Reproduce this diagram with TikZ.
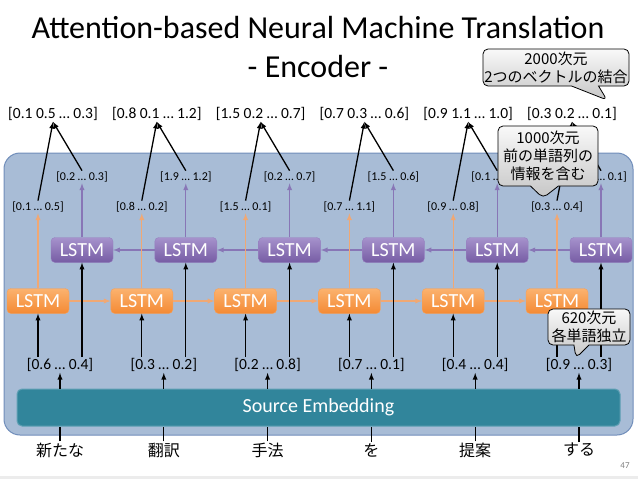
\documentclass[tikz,border=0pt]{standalone}
\usepackage{fontspec}
\setmainfont{Carlito}
\newfontfamily\jp{Noto Sans CJK JP}
\usetikzlibrary{shapes.callouts}
\definecolor{panelFill}{RGB}{168,188,214}
\definecolor{panelEdge}{RGB}{112,141,186}
\definecolor{embFill}{RGB}{49,133,155}
\definecolor{embEdge}{RGB}{96,160,180}
\definecolor{orTop}{RGB}{251,178,110}
\definecolor{orBot}{RGB}{244,138,52}
\definecolor{orEdge}{RGB}{246,160,90}
\definecolor{orLine}{RGB}{240,168,116}
\definecolor{puTop}{RGB}{166,146,204}
\definecolor{puBot}{RGB}{118,92,164}
\definecolor{puEdge}{RGB}{150,128,192}
\definecolor{puLine}{RGB}{136,118,182}
\begin{document}
\begin{tikzpicture}[x=1pt,y=-1pt,
	every node/.style={inner sep=1pt},
	vec/.style={font=\fontsize{15.5}{16}\selectfont},
	hid/.style={font=\fontsize{12}{13}\selectfont},
	fwd/.style={rounded corners=4pt,minimum width=62pt,minimum height=25pt,inner sep=0pt,text=white,font=\fontsize{20}{20}\selectfont,top color=orTop,bottom color=orBot,draw=orEdge},
	bwd/.style={fwd,top color=puTop,bottom color=puBot,draw=puEdge},
	arr/.style={-latex,line width=1.3pt},
	farr/.style={arr,orLine},
	barr/.style={arr,puLine},
	note/.style={rectangle callout,rounded corners=5pt,draw,line width=.8pt,top color=gray!5,bottom color=gray!45,inner sep=1pt,align=center,font=\jp\fontsize{15}{18}\selectfont}]
	\useasboundingbox (0,0) rectangle (638,479);
	\fill[gray!15] (0,476) rectangle (638,479);
	\node[font=\fontsize{32}{32}\selectfont,anchor=base] (title) at (318,38) {Attention-based Neural Machine Translation};
	\node[font=\fontsize{32}{32}\selectfont,anchor=base] (sub) at (318,77) {- Encoder -};
	\draw[rounded corners=16pt,fill=panelFill,draw=panelEdge,line width=1pt] (4,153) rectangle (633,435);
	\node[rounded corners=5pt,fill=embFill,draw=embEdge,line width=1pt,minimum width=603pt,minimum height=37pt,text=white,font=\fontsize{20}{20}\selectfont] (emb) at (318.5,407.5) {Source Embedding};
	% one column per word
	\foreach \i/\t/\f/\b/\e/\w in {
		0/{[0.1 0.5 … 0.3]}/{[0.1 … 0.5]}/{[0.2 … 0.3]}/{[0.6 … 0.4]}/新たな,
		1/{[0.8 0.1 … 1.2]}/{[0.8 … 0.2]}/{[1.9 … 1.2]}/{[0.3 … 0.2]}/翻訳,
		2/{[1.5 0.2 … 0.7]}/{[1.5 … 0.1]}/{[0.2 … 0.7]}/{[0.2 … 0.8]}/手法,
		3/{[0.7 0.3 … 0.6]}/{[0.7 … 1.1]}/{[1.5 … 0.6]}/{[0.7 … 0.1]}/を,
		4/{[0.9 1.1 … 1.0]}/{[0.9 … 0.8]}/{[0.1 … 1.0]}/{[0.4 … 0.4]}/提案,
		5/{[0.3 0.2 … 0.1]}/{[0.3 … 0.4]}/{[0.2 … 0.1]}/{[0.9 … 0.3]}/する}{
		\pgfmathsetmacro\c{60+103.8*\i}
		\node[vec] (t\i) at (\c-7,114) {\t};
		\node[hid] (f\i) at (\c-22,207) {\f};
		\node[hid] (b\i) at (\c+22,177) {\b};
		\node[bwd] (p\i) at (\c+22,250) {LSTM};
		\node[fwd] (o\i) at (\c-22,301) {LSTM};
		\node[vec] (e\i) at (\c,365) {\e};
		\node[font=\jp\fontsize{16}{16}\selectfont] (w\i) at (\c,450) {\w};
	}
	\foreach \i in {0,...,4}{
		\pgfmathtruncatemacro\j{\i+1}
		\draw[farr] (o\i.east) -- (o\j.west);
		\draw[barr] (p\j.west) -- (p\i.east);
	}
	\foreach \i in {0,...,5}{
		\draw[farr] (o\i.north) -- (f\i.south);
		\draw[barr] (p\i.north) -- (b\i.south);
		\draw[arr] (f\i.north) -- (t\i.south);
		\draw[arr] (b\i.north) -- (t\i.south);
		\draw[arr] (o\i |- e\i.north) -- (o\i.south);
		\draw[arr] (p\i |- e\i.north) -- (p\i.south);
		\draw[arr] (emb.north -| e\i) -- (e\i.south);
		\draw[line width=1.3pt] (w\i.north) -- (emb.south -| w\i);
	}
	\node[gray,font=\fontsize{9}{10}\selectfont] (page) at (625,466) {47};
	% callouts
	\node[note,minimum width=146pt,minimum height=37pt,callout absolute pointer={(607,100)},callout pointer width=27pt] (n1) at (556,67.5) {2000次元\\2つのベクトルの結合};
	\node[note,minimum width=100pt,minimum height=60pt,callout absolute pointer={(543,198)},callout pointer width=28pt] (n2) at (548,156) {1000次元\\前の単語列の\\情報を含む};
	\node[note,minimum width=82pt,minimum height=36pt,callout absolute pointer={(576,358)},callout pointer width=15pt] (n3) at (589,327) {620次元\\各単語独立};
\end{tikzpicture}
\end{document}
